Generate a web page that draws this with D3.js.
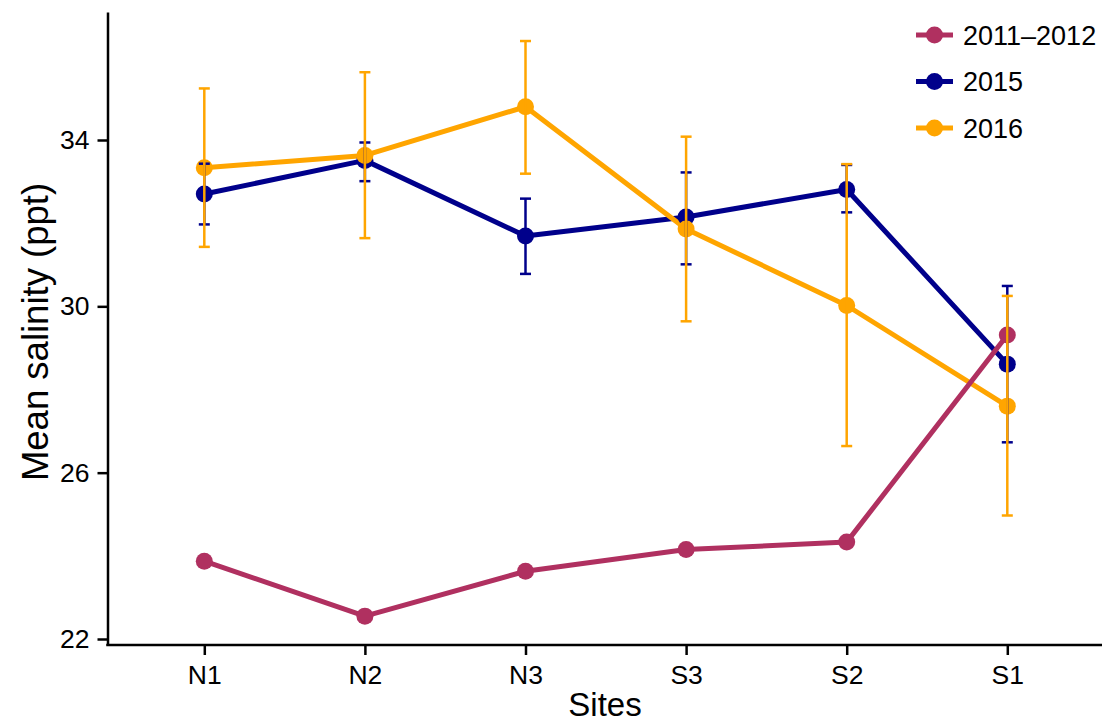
<!DOCTYPE html>
<html>
<head>
<meta charset="utf-8">
<script src="https://cdn.jsdelivr.net/npm/d3@7"></script>
<style>
  html, body { margin: 0; padding: 0; background: #fff; }
  svg text { font-family: "Liberation Sans", Arial, Helvetica, sans-serif; fill: #000; }
</style>
</head>
<body>
<svg id="chart" width="1102" height="722"></svg>
<script>
const sites = ["N1", "N2", "N3", "S3", "S2", "S1"];
const seriesNames = ["2011\u20132012", "2015", "2016"];
const seriesColors = ["#B03060", "#00008B", "#FFA500"];

const mean2011 = [23.87, 22.55, 23.63, 24.15, 24.33, 29.31];

const mean2015 = [32.70, 33.51, 31.69, 32.15, 32.81, 28.61];
const lo2015   = [31.97, 33.01, 30.78, 31.01, 32.26, 26.73];
const hi2015   = [33.43, 33.94, 32.59, 33.22, 33.40, 30.49];

const mean2016 = [33.33, 33.63, 34.80, 31.86, 30.02, 27.60];
const lo2016   = [31.43, 31.64, 33.19, 29.64, 26.64, 24.97];
const hi2016   = [35.24, 35.63, 36.38, 34.08, 33.42, 30.25];

const yTicks = [22, 26, 30, 34];

const svg = d3.select("#chart");

// scales
const pxPerUnit = (639 - 140) / 12;
const y = d3.scaleLinear()
  .domain([22 - 6 / pxPerUnit, 34 + 128 / pxPerUnit])
  .range([645, 12]);
const x = d3.scalePoint().domain(sites).range([204.3, 1007.3]);

// axes
const yAxis = svg.append("g")
  .attr("transform", "translate(107.5,0)")
  .call(d3.axisLeft(y).tickValues(yTicks).tickSize(10).tickPadding(8).tickSizeOuter(0).tickFormat(d3.format("d")));
yAxis.select(".domain").attr("stroke", "#000").attr("stroke-width", 2.5);
yAxis.selectAll(".tick line").attr("stroke", "#000").attr("stroke-width", 2.5);
yAxis.selectAll(".tick text").style("font-size", "26.5px").attr("fill", "#000");

const xAxis = svg.append("g")
  .attr("transform", "translate(0,645)")
  .call(d3.axisBottom(x).tickSize(10).tickPadding(10).tickSizeOuter(0));
xAxis.select(".domain").remove();
xAxis.append("line").attr("x1", 106.25).attr("x2", 1102).attr("y1", 0).attr("y2", 0)
  .attr("stroke", "#000").attr("stroke-width", 2.5);
xAxis.selectAll(".tick line").attr("stroke", "#000").attr("stroke-width", 2.5);
xAxis.selectAll(".tick text").style("font-size", "26.5px").attr("fill", "#000");

// axis titles
svg.append("text")
  .attr("x", 605).attr("y", 716)
  .attr("text-anchor", "middle")
  .style("font-size", "33px")
  .text("Sites");
svg.append("text")
  .attr("transform", "translate(48,332) rotate(-90)")
  .attr("text-anchor", "middle")
  .style("font-size", "36.5px")
  .text("Mean salinity (ppt)");

// data
const series = [
  { name: seriesNames[1], color: seriesColors[1], mean: mean2015, lo: lo2015, hi: hi2015 },
  { name: seriesNames[2], color: seriesColors[2], mean: mean2016, lo: lo2016, hi: hi2016 },
  { name: seriesNames[0], color: seriesColors[0], mean: mean2011, lo: null, hi: null }
];

const line = d3.line().x((d, i) => x(sites[i])).y(d => y(d));

series.forEach(s => {
  svg.append("path")
    .datum(s.mean)
    .attr("d", line)
    .attr("fill", "none")
    .attr("stroke", s.color)
    .attr("stroke-width", 5)
    .attr("stroke-linejoin", "round");
});
series.forEach(s => {
  svg.append("g").selectAll("circle")
    .data(s.mean)
    .join("circle")
    .attr("cx", (d, i) => x(sites[i]))
    .attr("cy", d => y(d))
    .attr("r", 8.5)
    .attr("fill", s.color);
});

// error bars
series.filter(s => s.lo).forEach(s => {
  const g = svg.append("g").attr("stroke", s.color).attr("stroke-width", 2.5);
  sites.forEach((site, i) => {
    const cx = x(site);
    g.append("line").attr("x1", cx).attr("x2", cx).attr("y1", y(s.lo[i])).attr("y2", y(s.hi[i]));
    g.append("line").attr("x1", cx - 5.5).attr("x2", cx + 5.5).attr("y1", y(s.lo[i])).attr("y2", y(s.lo[i]));
    g.append("line").attr("x1", cx - 5.5).attr("x2", cx + 5.5).attr("y1", y(s.hi[i])).attr("y2", y(s.hi[i]));
  });
});

// legend
const legendItems = seriesNames.map((n, i) => ({ name: n, color: seriesColors[i] }));
const legend = svg.append("g");
legendItems.forEach((d, i) => {
  const ly = 35 + i * 46.5;
  legend.append("line").attr("x1", 916).attr("x2", 953).attr("y1", ly).attr("y2", ly)
    .attr("stroke", d.color).attr("stroke-width", 5);
  legend.append("circle").attr("cx", 934.5).attr("cy", ly).attr("r", 8.5).attr("fill", d.color);
  legend.append("text").attr("x", 963).attr("y", ly).attr("dy", "0.36em")
    .style("font-size", "27px").text(d.name);
});
</script>
</body>
</html>
